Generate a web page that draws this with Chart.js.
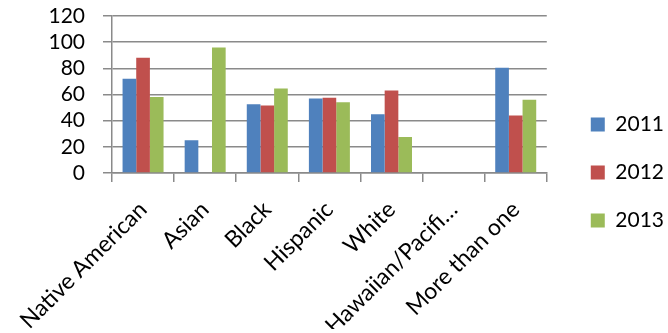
<!DOCTYPE html>
<html>
<head>
<meta charset="utf-8">
<script src="https://cdn.jsdelivr.net/npm/chart.js@4/dist/chart.umd.min.js"></script>
<style>
  html, body { margin: 0; padding: 0; background: #fff; }
  #wrap { width: 668px; height: 333px; }
</style>
</head>
<body>
<div id="wrap"><canvas id="grafico"></canvas></div>
<script>
// dados
const categorias = ['Native American', 'Asian', 'Black', 'Hispanic', 'White', 'Hawaiian/Pacifi\u2026', 'More than one'];
const anos = ['2011', '2012', '2013'];
const valores2011 = [72, 25, 52.5, 57, 45, 0, 80.5];
const valores2012 = [88, 0, 51.5, 57.5, 63, 0, 44];
const valores2013 = [58, 96, 64.5, 54, 27.5, 0, 56];
const ticksY = [0, 20, 40, 60, 80, 100, 120];

const cores = ['#4F81BD', '#C0504D', '#9BBB59'];
const corGrade = '#8a8a8a';
const fonte = { family: 'Lato', size: 21 };
const fonteCategorias = { family: 'Lato', size: 23 };

Chart.defaults.font.family = 'Lato';
Chart.defaults.color = '#000';

const series = [valores2011, valores2012, valores2013];
const datasets = anos.map((ano, i) => ({
    label: ano,
    data: series[i],
    backgroundColor: cores[i],
    categoryPercentage: 0.66,
    barPercentage: 1.0
}));

const ctx = document.getElementById('grafico');
new Chart(ctx, {
    type: 'bar',
    data: { labels: categorias, datasets: datasets },
    options: {
        responsive: true,
        maintainAspectRatio: false,
        animation: false,
        layout: { padding: { top: 16, left: 0, right: -6, bottom: 4 } },
        plugins: {
            tooltip: { enabled: false },
            legend: {
                position: 'right',
                labels: {
                    font: fonte,
                    boxWidth: 14,
                    boxHeight: 14,
                    padding: 27
                }
            }
        },
        scales: {
            x: {
                grid: {
                    offset: true,
                    drawOnChartArea: false,
                    color: corGrade,
                    lineWidth: 1.5,
                    tickLength: 9
                },
                border: { color: corGrade, width: 1.5 },
                ticks: {
                    font: fonteCategorias,
                    maxRotation: 45,
                    minRotation: 45,
                    autoSkip: false,
                    padding: 14
                },
                afterFit: s => { s.height = 156; }
            },
            y: {
                min: 0,
                max: 120,
                afterBuildTicks: s => { s.ticks = ticksY.map(v => ({ value: v })); },
                grid: { color: corGrade, lineWidth: 1.5, tickLength: 9 },
                border: { color: corGrade, width: 1.5 },
                ticks: { font: fonte, padding: 18, autoSkip: false },
                afterFit: s => { s.width = 112; s.paddingTop = 0; s.paddingBottom = 0; }
            },
            // eixo vazio só para afastar a legenda do gráfico
            espaco: {
                type: 'linear',
                position: 'right',
                display: true,
                grid: { display: false },
                border: { display: false },
                ticks: { display: false },
                afterFit: s => { s.width = 17; s.paddingTop = 0; s.paddingBottom = 0; }
            }
        }
    }
});
</script>
</body>
</html>
